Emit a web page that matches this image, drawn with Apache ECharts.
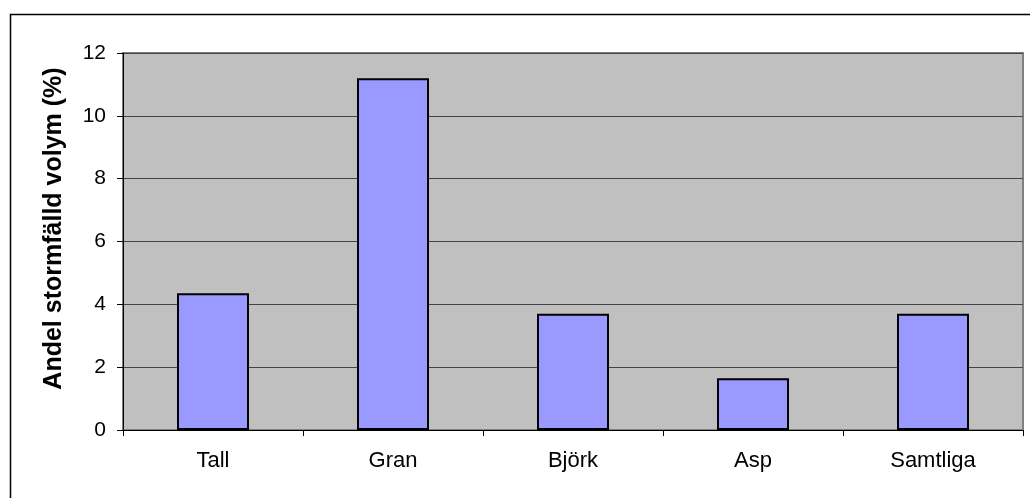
<!DOCTYPE html>
<html>
<head>
<meta charset="utf-8">
<script src="https://cdn.jsdelivr.net/npm/echarts@6/dist/echarts.min.js"></script>
<style>
  html, body { margin: 0; padding: 0; background: #fff; }
  #chart { width: 1030px; height: 498px; }
</style>
</head>
<body>
<div id="chart"></div>
<script>
// Trädslag och andel stormfälld volym (%)
const categories = ['Tall', 'Gran', 'Björk', 'Asp', 'Samtliga'];
const values = [4.35, 11.2, 3.7, 1.65, 3.7];
const yTicks = [0, 2, 4, 6, 8, 10, 12];

const chart = echarts.init(document.getElementById('chart'));
const font = '"Liberation Sans", Arial, sans-serif';

chart.setOption({
  animation: false,
  graphic: [{
    type: 'rect',
    left: 8, top: 12,
    shape: { width: 1040, height: 500 },
    style: { fill: 'none', stroke: '#000', lineWidth: 1.5 },
    z: -1
  }],
  grid: {
    left: 123, right: 7, top: 53, bottom: 68,
    show: true,
    backgroundColor: '#C0C0C0',
    borderColor: '#808080',
    borderWidth: 2
  },
  xAxis: {
    type: 'category',
    data: categories,
    axisLine: { lineStyle: { color: '#000', width: 1 } },
    axisTick: { show: true, length: 6, lineStyle: { color: '#000' } },
    axisLabel: { color: '#000', fontFamily: font, fontSize: 22, margin: 20 }
  },
  yAxis: {
    type: 'value',
    min: yTicks[0],
    max: yTicks[yTicks.length - 1],
    interval: 2,
    name: 'Andel stormfälld volym (%)',
    nameLocation: 'middle',
    nameGap: 56,
    nameTextStyle: {
      color: '#000', fontFamily: font, fontSize: 25, fontWeight: 'bold',
      padding: [0, 0, 0, 26]
    },
    axisLine: { show: true, lineStyle: { color: '#000', width: 1 } },
    axisTick: { show: true, length: 6, lineStyle: { color: '#000' } },
    axisLabel: { color: '#000', fontFamily: font, fontSize: 21, margin: 17 },
    splitLine: { show: true, lineStyle: { color: '#444', width: 1 } }
  },
  series: [{
    type: 'bar',
    data: values,
    barWidth: '40%',
    itemStyle: { color: '#9999FF', borderColor: '#000', borderWidth: 2 }
  }]
});
</script>
</body>
</html>
